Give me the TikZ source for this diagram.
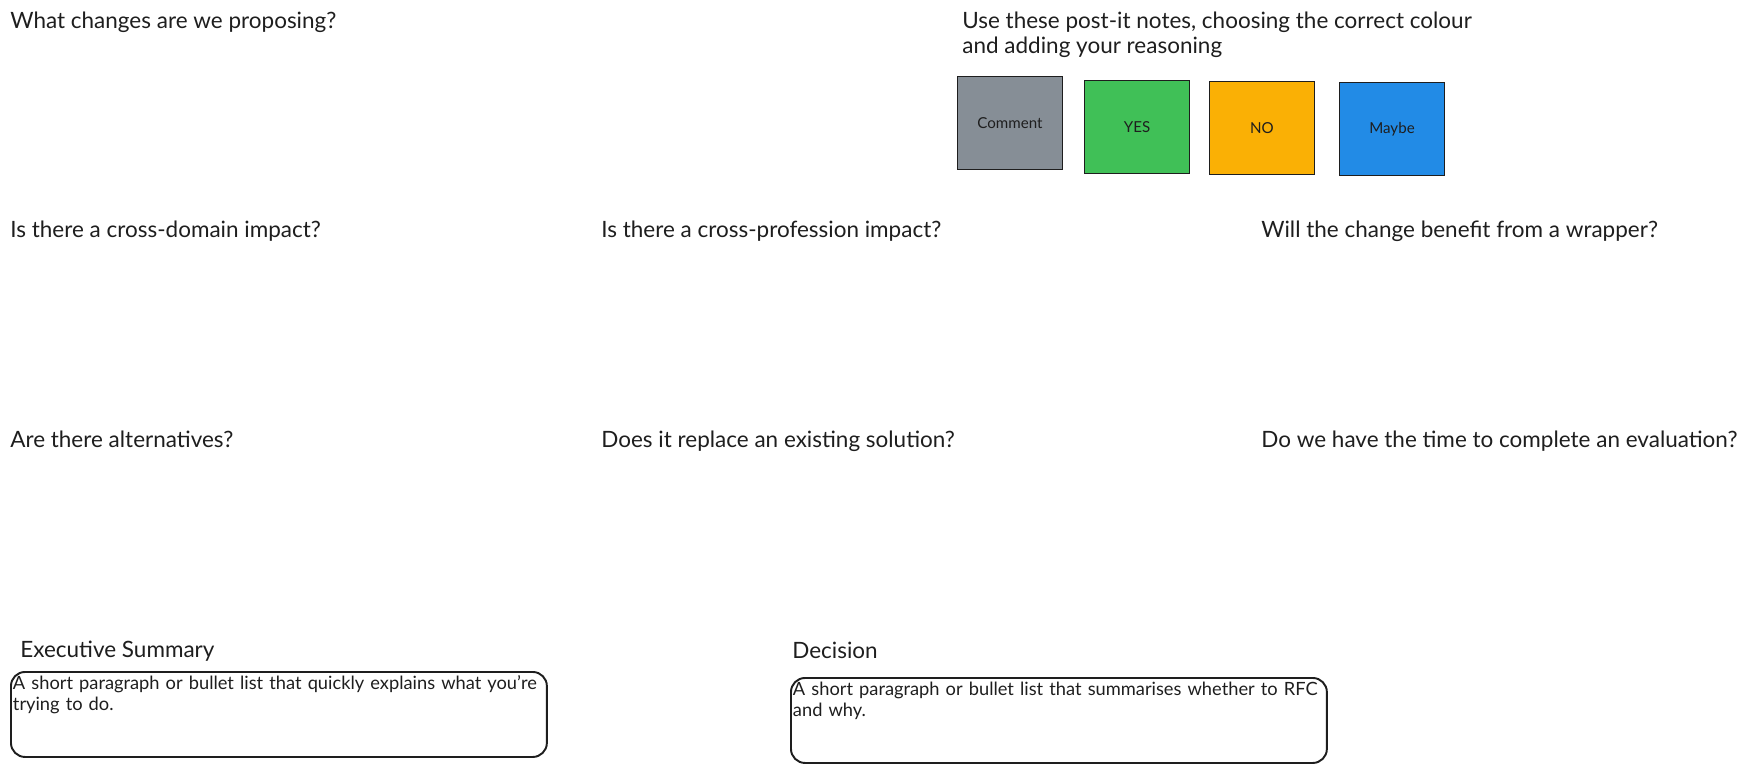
\documentclass[tikz,border=0pt]{standalone}
\usepackage{fontspec}
\setmainfont{Lato}
\usetikzlibrary{positioning}
\definecolor{Ink}{HTML}{1E1E1E}
\definecolor{NoteGrey}{HTML}{868E96}
\definecolor{NoteGreen}{HTML}{40C057}
\definecolor{NoteAmber}{HTML}{FAB005}
\definecolor{NoteBlue}{HTML}{228BE6}

\begin{document}
\begin{tikzpicture}[x=0.02cm,y=-0.02cm]
    \tikzset{q/.style={anchor=base west,inner sep=0pt,text=Ink,font=\fontsize{12.8}{14.2}\selectfont},
      note/.style={draw=Ink,line width=0.8pt,minimum width=2.1cm,minimum height=1.86cm,
      text=Ink,font=\fontsize{8.6}{10}\selectfont},
      box/.style={draw=Ink,line width=1.1pt,rounded corners=8pt,anchor=north west,align=left,
      text width=10.64cm,inner xsep=0.04cm,inner ysep=0.1cm,text height=0.25cm,text depth=1.25cm,
      text=Ink,font=\fontsize{10.4}{11.7}\selectfont}}
    \useasboundingbox (0,0) rectangle (1764,772);
    \node[q] (q0) at (10,28) {What changes are we proposing?};
    \node[q,align=left] (intro) at (962,53) {Use these post-it notes, choosing the correct colour\\and adding your reasoning};
    \node[note,fill=NoteGrey] (cmt) at (1010,123) {Comment};
    \node[note,fill=NoteGreen] (yes) at (1137,127) {YES};
    \node[note,fill=NoteAmber] (no) at (1262,128) {NO};
    \node[note,fill=NoteBlue] (maybe) at (1392,129) {Maybe};
    \node[q] (q1) at (10,237) {Is there a cross-domain impact?};
    \node[q] (q2) at (601,237) {Is there a cross-profession impact?};
    \node[q] (q3) at (1261,237) {Will the change benefit from a wrapper?};
    \node[q] (q4) at (10,447) {Are there alternatives?};
    \node[q] (q5) at (601,447) {Does it replace an existing solution?};
    \node[q] (q6) at (1261,447) {Do we have the time to complete an evaluation?};
    \node[q] (sumlab) at (20,657) {Executive Summary};
    \node[box] (sumbox) at (10,671) {A short paragraph or bullet list that quickly explains what you're\\trying to do.};
    \node[q] (declab) at (792,658) {Decision};
    \node[box] (decbox) at (790,677) {A short paragraph or bullet list that summarises whether to RFC\\and why.};
  \end{tikzpicture}
\end{document}
